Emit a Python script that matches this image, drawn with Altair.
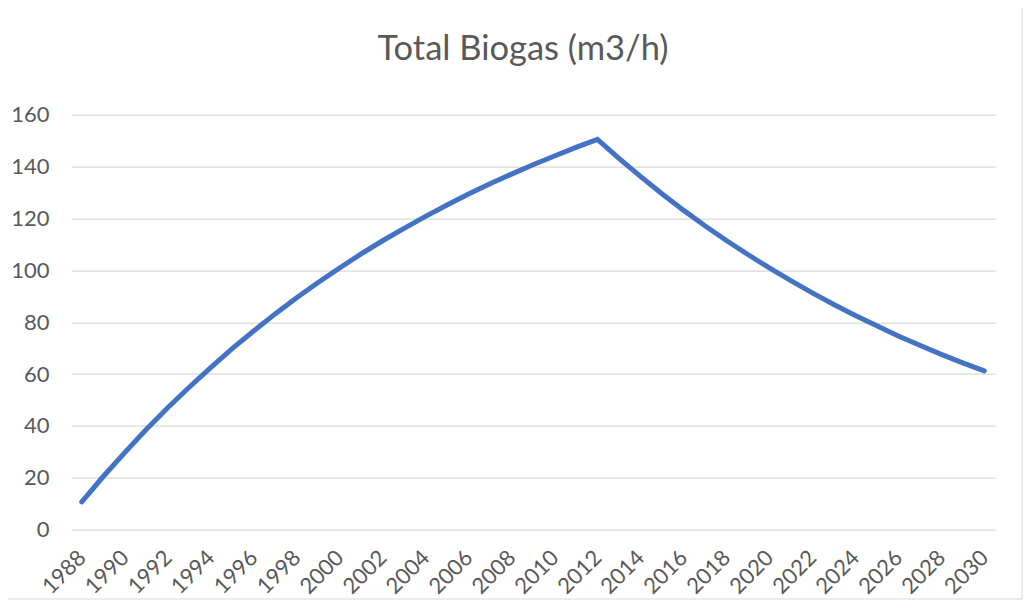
import altair as alt
import pandas as pd

years = [1988, 1989, 1990, 1991, 1992, 1993, 1994, 1995, 1996, 1997, 1998,
         1999, 2000, 2001, 2002, 2003, 2004, 2005, 2006, 2007, 2008, 2009,
         2010, 2011, 2012, 2013, 2014, 2015, 2016, 2017, 2018, 2019, 2020,
         2021, 2022, 2023, 2024, 2025, 2026, 2027, 2028, 2029, 2030]
biogas = [10.7, 20.5, 29.7, 38.6, 47.0, 54.9, 62.5, 69.8, 76.6, 83.2, 89.4,
          95.3, 100.9, 106.3, 111.4, 116.2, 120.8, 125.2, 129.4, 133.4, 137.1,
          140.7, 144.1, 147.4, 150.5, 143.2, 136.2, 129.5, 123.2, 117.2, 111.5,
          106.1, 100.9, 96.0, 91.3, 86.8, 82.6, 78.6, 74.7, 71.1, 67.6, 64.3,
          61.2]
x_ticks = [1988, 1990, 1992, 1994, 1996, 1998, 2000, 2002, 2004, 2006, 2008,
           2010, 2012, 2014, 2016, 2018, 2020, 2022, 2024, 2026, 2028, 2030]
y_ticks = [0, 20, 40, 60, 80, 100, 120, 140, 160]
title_text = "Total Biogas (m3/h)"

df = pd.DataFrame({"year": years, "value": biogas})

FONT = "Lato"
GRAY = "#595959"

line = alt.Chart(df).mark_line(
    color="#4472C4", strokeWidth=5, strokeCap="round", strokeJoin="miter"
).encode(
    x=alt.X("year:Q",
            scale=alt.Scale(domain=[1987.5, 2030.5], nice=False, zero=False),
            axis=alt.Axis(values=x_ticks, format="d", title=None, grid=False,
                          domain=False, ticks=False, labelAngle=315,
                          labelAlign="right", labelBaseline="middle",
                          labelPadding=24, labelFontSize=22, labelFont=FONT,
                          labelColor=GRAY, labelOverlap=False)),
    y=alt.Y("value:Q",
            scale=alt.Scale(domain=[0, 160], nice=False),
            axis=alt.Axis(values=y_ticks, title=None, grid=True,
                          gridColor="#d9d9d9", gridWidth=1.2,
                          domain=False, ticks=False, labelPadding=22,
                          labelFontSize=22, labelFont=FONT, labelColor=GRAY)),
)

border = alt.Chart(pd.DataFrame({"a": [0]})).mark_rect(
    fillOpacity=0, stroke="#d9d9d9", strokeWidth=1
).encode(
    x=alt.value(-64), x2=alt.value(951),
    y=alt.value(-108), y2=alt.value(484.3),
)

title = alt.Chart(pd.DataFrame({"a": [0]})).mark_text(
    font=FONT, fontSize=34.5, color=GRAY, align="center", baseline="alphabetic"
).encode(
    x=alt.value(452), y=alt.value(-54.7), text=alt.value(title_text),
)

chart = alt.layer(border, line, title).properties(
    width=924,
    height=415,
    padding={"left": 63, "top": 106.7, "right": 28, "bottom": 70},
    autosize=alt.AutoSizeParams(type="none"),
    background="white",
).configure_view(stroke=None)

chart.save("out.html", embed_options={"renderer": "svg", "actions": False})
